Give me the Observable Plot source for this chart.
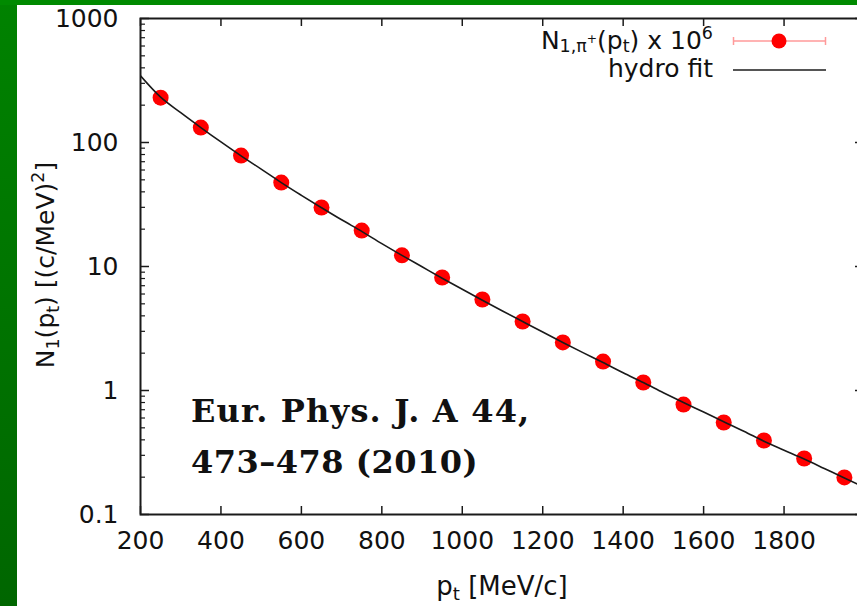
<!DOCTYPE html>
<html>
<head>
<meta charset="utf-8">
<script src="https://cdn.jsdelivr.net/npm/d3@7"></script>
<script src="https://cdn.jsdelivr.net/npm/@observablehq/plot@0.6"></script>
<style>
  html, body { margin: 0; padding: 0; overflow: hidden; }
  #wrap { position: relative; width: 857px; height: 606px; overflow: hidden;
          background: linear-gradient(#008200, #006600); }
  #top { position: absolute; left: 0; top: 0; width: 857px; height: 5px; background: #008a00; }
  #chart { position: absolute; left: 17px; top: 5px; width: 860px; height: 601px; }
  #chart svg { max-width: none !important; width: 860px; height: 601px; }
  .lbl { position: absolute; font-family: "DejaVu Sans", sans-serif; font-size: 25px; color: #111; white-space: nowrap; line-height: 1; }
  .sub { position: relative; font-size: 0.7em; top: 0.3em; line-height: 0; }
  .sup { position: relative; font-size: 0.7em; top: -0.55em; line-height: 0; }
  .lsub { position: relative; font-size: 0.7em; top: 0.15em; line-height: 0; }
  #ylab { left: 45px; top: 265px; transform: translate(-50%, -50%) rotate(-90deg); }
  #xlab { left: 502px; top: 573px; font-size: 26px; transform: translateX(-50%); }
  .leg { right: 144px; font-size: 25px; text-align: right; }
  #leg1 { top: 28px; }
  #leg2 { top: 56px; }
  #legsym { position: absolute; left: 0; top: 0; }
  #cite { position: absolute; left: 191px; top: 386px; font-family: "DejaVu Serif", serif; font-weight: bold;
          font-size: 32px; line-height: 51px; letter-spacing: 0.5px; color: #111; white-space: nowrap; }
  #cite .l1 { letter-spacing: 1.2px; }
</style>
</head>
<body>
<div id="wrap">
  <div id="top"></div>
  <div id="chart"></div>
  <div class="lbl" id="ylab">N<span class="sub">1</span>(p<span class="sub">t</span>) [(c/MeV)<span class="sup">2</span>]</div>
  <div class="lbl" id="xlab">p<span class="sub">t</span> [MeV/c]</div>
  <div class="lbl leg" id="leg1">N<span class="lsub">1,π<span style="font-size:0.7em;position:relative;top:-0.7em">+</span></span>(p<span class="lsub">t</span>) x 10<span class="sup">6</span></div>
  <div class="lbl leg" id="leg2">hydro fit</div>
  <svg id="legsym" width="857" height="100">
    <line x1="733" x2="826" y1="41" y2="41" stroke="#ff9a9a" stroke-width="1.5"/>
    <line x1="733.5" x2="733.5" y1="37" y2="45" stroke="#ff9a9a" stroke-width="1.5"/>
    <line x1="825.5" x2="825.5" y1="37" y2="45" stroke="#ff9a9a" stroke-width="1.5"/>
    <circle cx="779" cy="41" r="7.5" fill="#ff0000"/>
    <line x1="733" x2="826" y1="70" y2="70" stroke="#555" stroke-width="2"/>
  </svg>
  <div id="cite"><span class="l1">Eur. Phys. J. A 44,</span><br>473–478 (2010)</div>
</div>
<script>
// data: transverse momentum (MeV/c) and N1 x 10^6 values
const pt = [250, 350, 450, 550, 650, 750, 850, 950, 1050, 1150, 1250, 1350, 1450, 1550, 1650, 1750, 1850, 1950];
const n1 = [230, 132, 78.5, 47.5, 29.9, 19.5, 12.3, 8.15, 5.42, 3.6, 2.44, 1.71, 1.16, 0.77, 0.552, 0.395, 0.283, 0.199];

// hydro fit curve
const fitPt = [200, 250, 300, 350, 400, 450, 500, 550, 600, 650, 700, 750, 800, 850, 900, 950, 1000, 1050, 1100, 1150, 1200, 1250, 1300, 1350, 1400, 1450, 1500, 1550, 1600, 1650, 1700, 1750, 1800, 1850, 1900, 1950, 2000];
const fitN = [345, 232, 174, 132, 101, 78, 61, 47.5, 37.5, 29.8, 23.8, 19.2, 15.3, 12.3, 9.95, 8.05, 6.55, 5.35, 4.38, 3.6, 2.96, 2.44, 2.02, 1.68, 1.39, 1.16, 0.96, 0.80, 0.67, 0.56, 0.47, 0.39, 0.33, 0.28, 0.235, 0.197, 0.166];

// ticks
const xTicks = [200, 400, 600, 800, 1000, 1200, 1400, 1600, 1800, 2000];
const xTickLabels = ["200", "400", "600", "800", "1000", "1200", "1400", "1600", "1800"];
const yTicks = [0.1, 1, 10, 100, 1000];
const yTickLabels = ["0.1", "1", "10", "100", "1000"];
const yMinor = [0.2, 0.3, 0.4, 0.5, 0.6, 0.7, 0.8, 0.9,
                2, 3, 4, 5, 6, 7, 8, 9,
                20, 30, 40, 50, 60, 70, 80, 90,
                200, 300, 400, 500, 600, 700, 800, 900];

const points = pt.map((x, i) => ({x, y: n1[i]}));
const fit = fitPt.map((x, i) => ({x, y: fitN[i]}));
const xLab = xTickLabels.map(s => ({v: +s, s}));
const yLab = yTickLabels.map(s => ({v: +s, s}));

const W = 860, H = 601, mL = 123, mR = 13, mT = 13, mB = 92;
const FW = W - mL - mR, FH = H - mT - mB;
const ink = "#1a1a1a";

const chart = Plot.plot({
  width: W, height: H,
  marginLeft: mL, marginRight: mR, marginTop: mT, marginBottom: mB,
  x: {domain: [200, 2000], axis: null},
  y: {type: "log", domain: [0.1, 1000], axis: null},
  style: {background: "white", fontFamily: "DejaVu Sans, sans-serif", fontSize: "25px", color: "#111"},
  marks: [
    Plot.dot(points, {x: "x", y: "y", r: 8, fill: "#ff0000", stroke: "none"}),
    Plot.line(fit, {x: "x", y: "y", stroke: ink, strokeWidth: 1.6, curve: "monotone-x", clip: true}),
    // inward ticks
    Plot.tickX(xTicks, {x: d => d, insetTop: FH - 8, stroke: ink, strokeWidth: 1.5}),
    Plot.tickX(xTicks, {x: d => d, insetBottom: FH - 8, stroke: ink, strokeWidth: 1.5}),
    Plot.tickY(yTicks, {y: d => d, insetRight: FW - 9, stroke: ink, strokeWidth: 1.5}),
    Plot.tickY(yMinor, {y: d => d, insetRight: FW - 5, stroke: ink, strokeWidth: 1.2}),
    Plot.tickY(yTicks, {y: d => d, insetLeft: FW - 9, stroke: ink, strokeWidth: 1.5}),
    Plot.tickY(yMinor, {y: d => d, insetLeft: FW - 5, stroke: ink, strokeWidth: 1.2}),
    // tick labels
    Plot.text(xLab, {x: "v", text: "s", frameAnchor: "bottom", lineAnchor: "top", dy: 17, fill: "#111"}),
    Plot.text(yLab, {y: "v", text: "s", frameAnchor: "left", textAnchor: "end", dx: -22, fill: "#111"}),
    Plot.frame({stroke: ink, strokeWidth: 2})
  ]
});
document.getElementById("chart").appendChild(chart);
</script>
</body>
</html>
